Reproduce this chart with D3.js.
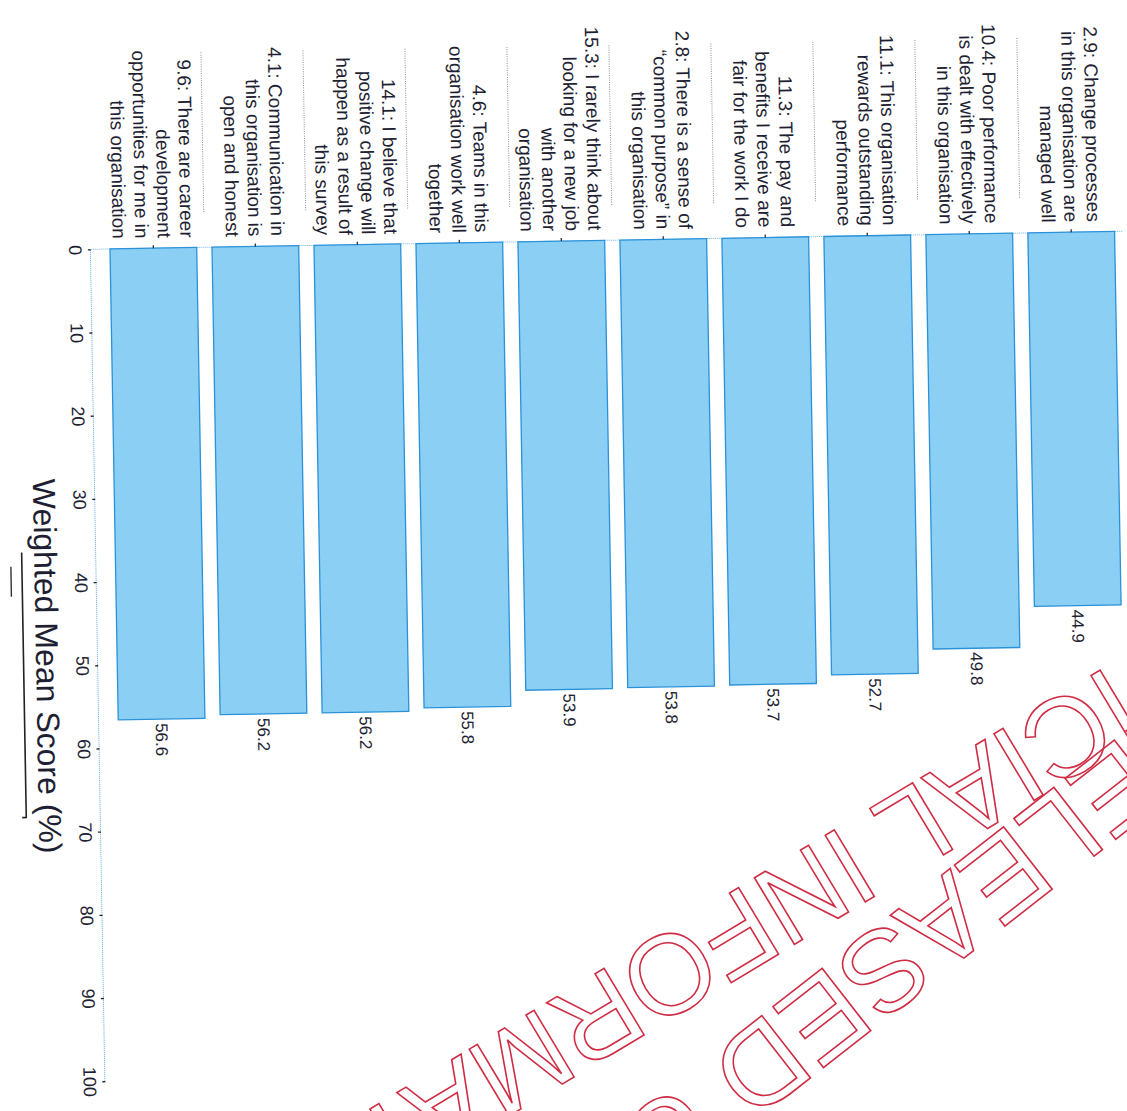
<!DOCTYPE html>
<html>
<head>
<meta charset="utf-8">
<script src="https://cdn.jsdelivr.net/npm/d3@7"></script>
<style>
  html, body { margin: 0; padding: 0; background: #fff; }
  svg { display: block; }
  text { font-family: "Liberation Sans", Arial, Helvetica, sans-serif; }
</style>
</head>
<body>
<svg id="chart" width="1127" height="1111"></svg>
<script>
// Survey items, lowest score first
const codes = ["2.9", "10.4", "11.1", "11.3", "2.8", "15.3", "4.6", "14.1", "4.1", "9.6"];
const labelLines = [
  ["2.9: Change processes", "in this organisation are", "managed well"],
  ["10.4: Poor performance", "is dealt with effectively", "in this organisation"],
  ["11.1: This organisation", "rewards outstanding", "performance"],
  ["11.3: The pay and", "benefits I receive are", "fair for the work I do"],
  ["2.8: There is a sense of", "\u201Ccommon purpose\u201D in", "this organisation"],
  ["15.3: I rarely think about", "looking for a new job", "with another", "organisation"],
  ["4.6: Teams in this", "organisation work well", "together"],
  ["14.1: I believe that", "positive change will", "happen as a result of", "this survey"],
  ["4.1: Communication in", "this organisation is", "open and honest"],
  ["9.6: There are career", "development", "opportunities for me in", "this organisation"]
];
const scores = [44.9, 49.8, 52.7, 53.7, 53.8, 53.9, 55.8, 56.2, 56.2, 56.6];
const scoreTicks = [0, 10, 20, 30, 40, 50, 60, 70, 80, 90, 100];
const axisTitle = "Weighted Mean Score (%)";
const stampLines = ["RELEASED UNDER THE", "OFFICIAL INFORMATION ACT"];

const W = 1127, H = 1111;
const ink = "#1f1f33";
const svg = d3.select("#chart");
svg.append("rect").attr("width", W).attr("height", H).attr("fill", "#ffffff");

// The page is printed sideways: build a horizontal bar chart, then turn it.
const plot = svg.append("g")
  .attr("transform", "translate(1122.2,231.3) rotate(89)");

const x = d3.scaleLinear().domain([0, 100]).range([0, 832]);
const y = d3.scaleBand().domain(codes).range([0, 1020])
  .paddingInner(0.15).paddingOuter(0.075);
const axisY = 1031.5;
const rows = codes.map((c, i) => ({ code: c, lines: labelLines[i], score: scores[i] }));

// category axis line at zero (mostly behind the bars)
plot.append("line")
  .attr("x1", x(0)).attr("x2", x(0)).attr("y1", 0).attr("y2", axisY)
  .attr("stroke", "#6fb3df").attr("stroke-width", 1).attr("stroke-dasharray", "1,1");

// dotted separators between category labels
const seps = codes.slice(1).map(c => y(c) - y.step() * y.paddingInner() / 2);
plot.selectAll("line.sep").data(seps).join("line")
  .attr("class", "sep")
  .attr("x1", -195).attr("x2", -35)
  .attr("y1", d => d).attr("y2", d => d)
  .attr("stroke", "#8c8fa3").attr("stroke-width", 1).attr("stroke-dasharray", "1,1.3");

// bars
plot.selectAll("rect.bar").data(rows).join("rect")
  .attr("class", "bar")
  .attr("x", x(0))
  .attr("y", d => y(d.code))
  .attr("width", d => x(d.score) - x(0))
  .attr("height", y.bandwidth())
  .attr("fill", "#8ccff5")
  .attr("stroke", "#2a92d8")
  .attr("stroke-width", 1.3);

// category ticks
plot.selectAll("line.ctick").data(rows).join("line")
  .attr("class", "ctick")
  .attr("x1", -3).attr("x2", 0)
  .attr("y1", d => y(d.code) + y.bandwidth() / 2)
  .attr("y2", d => y(d.code) + y.bandwidth() / 2)
  .attr("stroke", "#222").attr("stroke-width", 1.2);

// category labels, right aligned, wrapped
const lineH = 22.6;
plot.selectAll("text.cat").data(rows).join("text")
  .attr("class", "cat")
  .attr("text-anchor", "end")
  .attr("font-size", 19)
  .attr("fill", ink)
  .each(function (d) {
    const t = d3.select(this);
    const cy = y(d.code) + y.bandwidth() / 2;
    const n = d.lines.length;
    d.lines.forEach((ln, j) => {
      t.append("tspan")
        .attr("x", -10)
        .attr("y", cy + (j - (n - 1) / 2) * lineH)
        .attr("dy", "0.35em")
        .text(ln);
    });
  });

// value labels at bar ends
plot.selectAll("text.val").data(rows).join("text")
  .attr("class", "val")
  .attr("x", d => x(d.score) + 4)
  .attr("y", d => y(d.code) + y.bandwidth() / 2)
  .attr("dy", "0.35em")
  .attr("font-size", 17)
  .attr("fill", ink)
  .text(d => d.score.toFixed(1));

// value axis
const ax = plot.append("g")
  .attr("transform", `translate(0,${axisY})`)
  .call(d3.axisBottom(x).tickValues(scoreTicks).tickSize(3).tickSizeOuter(0).tickPadding(6)
    .tickFormat(d3.format("d")));
ax.select(".domain")
  .attr("stroke", "#5ea8da").attr("stroke-width", 1).attr("stroke-dasharray", "1,1");
ax.selectAll(".tick line").attr("stroke", "#222").attr("stroke-width", 1.3);
ax.selectAll(".tick text")
  .attr("font-size", 18).attr("fill", ink)
  .attr("font-family", "Liberation Sans, Arial, sans-serif");

// axis title
plot.append("text")
  .attr("x", x(50)).attr("y", 1093.5)
  .attr("text-anchor", "middle")
  .attr("font-size", 32)
  .attr("fill", ink)
  .text(axisTitle);

// rule under the title
plot.append("path")
  .attr("d", "M302,1106 L567,1106 L567,1110")
  .attr("fill", "none").attr("stroke", "#222").attr("stroke-width", 1.6);
plot.append("line")
  .attr("x1", 316).attr("x2", 346).attr("y1", 1117).attr("y2", 1117)
  .attr("stroke", "#333").attr("stroke-width", 1.4);

// release stamp: two outlined lines laid across the lower right corner
const stampPlacement = [
  { tx: 1187.2, ty: 683.2, angle: 142, size: 115 },
  { tx: 1302.6, ty: 548.5, angle: 149, size: 113 }
];
svg.append("g").selectAll("text").data(stampLines).join("text")
  .attr("transform", (d, i) => {
    const p = stampPlacement[i];
    return `translate(${p.tx},${p.ty}) rotate(${p.angle})`;
  })
  .attr("text-anchor", "start")
  .attr("font-size", (d, i) => stampPlacement[i].size)
  .attr("fill", "none")
  .attr("stroke", "#d02c44")
  .attr("stroke-width", 1.6)
  .text(d => d);
</script>
</body>
</html>
